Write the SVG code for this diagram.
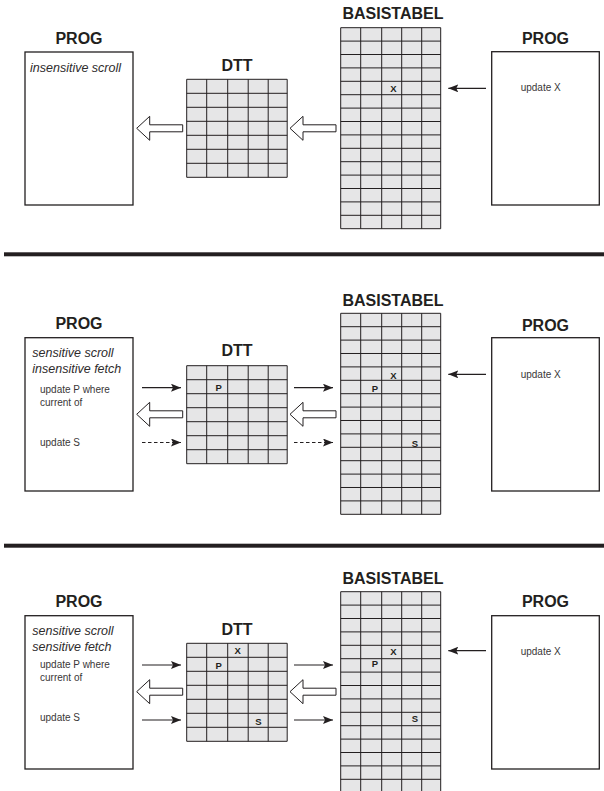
<svg xmlns="http://www.w3.org/2000/svg" xmlns:xlink="http://www.w3.org/1999/xlink" width="604" height="791" viewBox="0 0 604 791">
<style>
.title{font-family:"Liberation Sans",Arial,sans-serif;font-weight:bold;font-size:16px;fill:#231f20;text-anchor:middle}
.mode{font-family:"Liberation Sans",Arial,sans-serif;font-style:italic;font-size:12.5px;fill:#2e2b2c}
.small{font-family:"Liberation Sans",Arial,sans-serif;font-size:10px;fill:#3a3738}
.cell{font-family:"Liberation Sans",Arial,sans-serif;font-weight:bold;font-size:9.5px;fill:#231f20;text-anchor:middle}
.box{fill:#fff;stroke:#231f20;stroke-width:1.3}
.gfill{fill:#e6e6e7}
.gline{fill:none;stroke:#231f20;stroke-width:1}
.hollow{fill:#fff;stroke:#231f20;stroke-width:1}
.conn{fill:none;stroke:#231f20;stroke-width:1.2;marker-end:url(#ah)}
.dash{stroke-dasharray:3.5 2.5}
.sep{fill:#231f20}
</style>
<defs>
<marker id="ah" markerWidth="10" markerHeight="8" refX="10" refY="4" orient="auto" markerUnits="userSpaceOnUse">
<path d="M0,0 L10,4 L0,8 L2,4 Z" fill="#231f20"/>
</marker>
<g id="dttGrid">
<rect class="gfill" x="0" y="0" width="100.5" height="98"/>
<path class="gline" d="M0,0H100.5M0,14H100.5M0,28H100.5M0,42H100.5M0,56H100.5M0,70H100.5M0,84H100.5M0,98H100.5M0,0V98M20,0V98M41,0V98M61.5,0V98M81.5,0V98M100.5,0V98"/>
</g>
<g id="basisGrid">
<rect class="gfill" x="0" y="0" width="100" height="201"/>
<path class="gline" d="M0,0H100M0,13.4H100M0,26.8H100M0,40.2H100M0,53.6H100M0,67H100M0,80.4H100M0,93.8H100M0,107.2H100M0,120.6H100M0,134H100M0,147.4H100M0,160.8H100M0,174.2H100M0,187.6H100M0,201H100M0,0V201M20,0V201M41,0V201M61,0V201M81,0V201M100,0V201"/>
</g>
<path id="hollowArrow" class="hollow" d="M0,0 L13,-12 L13,-3.5 L46,-3.5 L46,3.5 L13,3.5 L13,12 Z"/>
</defs>

<!-- Separators -->
<g id="separators">
<rect class="sep" x="4" y="252.3" width="600" height="4"/>
<rect class="sep" x="4" y="543.7" width="600" height="4"/>
</g>

<!-- ===== Section 1 ===== -->
<g id="s1-prog-left">
<text class="title" x="79" y="43.5">PROG</text>
<rect class="box" x="25" y="52" width="108" height="153"/>
<text class="mode" x="30" y="71.5">insensitive scroll</text>
</g>
<g id="s1-dtt">
<text class="title" x="237" y="70.7">DTT</text>
<use xlink:href="#dttGrid" x="186.7" y="79.3"/>
</g>
<g id="s1-basistabel">
<text class="title" x="393" y="19.3">BASISTABEL</text>
<use xlink:href="#basisGrid" x="340.7" y="27.7"/>
<text class="cell" x="393.3" y="92.4">X</text>
</g>
<g id="s1-prog-right">
<text class="title" x="545.5" y="44">PROG</text>
<rect class="box" x="491.7" y="51.7" width="107.6" height="153.3"/>
<text class="small" x="520.7" y="91.3">update X</text>
</g>

<!-- ===== Section 2 ===== -->
<g id="s2-prog-left">
<text class="title" x="79" y="329.3">PROG</text>
<rect class="box" x="25" y="337.7" width="108" height="153.3"/>
<text class="mode" x="32.3" y="357">sensitive scroll</text>
<text class="mode" x="32.3" y="372.7">insensitive fetch</text>
<text class="small" x="40" y="393.3">update P where</text>
<text class="small" x="40" y="406">current of</text>
<text class="small" x="40" y="446">update S</text>
</g>
<g id="s2-dtt">
<text class="title" x="237" y="356">DTT</text>
<use xlink:href="#dttGrid" x="186.7" y="365.7"/>
<text class="cell" x="218.7" y="390.8">P</text>
</g>
<g id="s2-basistabel">
<text class="title" x="393" y="305.7">BASISTABEL</text>
<use xlink:href="#basisGrid" x="340.7" y="313.3"/>
<text class="cell" x="393.3" y="378.7">X</text>
<text class="cell" x="375" y="392.2">P</text>
<text class="cell" x="415" y="446.5">S</text>
</g>
<g id="s2-prog-right">
<text class="title" x="545.5" y="330.7">PROG</text>
<rect class="box" x="491.7" y="337.7" width="107.6" height="153.3"/>
<text class="small" x="520.7" y="377.7">update X</text>
</g>

<!-- ===== Section 3 ===== -->
<g id="s3-prog-left">
<text class="title" x="79" y="606.7">PROG</text>
<rect class="box" x="25" y="615.7" width="108" height="153.3"/>
<text class="mode" x="32.3" y="635">sensitive scroll</text>
<text class="mode" x="32.3" y="650.7">sensitive fetch</text>
<text class="small" x="40" y="668.3">update P where</text>
<text class="small" x="40" y="680.7">current of</text>
<text class="small" x="40" y="720.7">update S</text>
</g>
<g id="s3-dtt">
<text class="title" x="237" y="634.7">DTT</text>
<use xlink:href="#dttGrid" x="186.7" y="643.3"/>
<text class="cell" x="237.7" y="653.5">X</text>
<text class="cell" x="218.7" y="668.5">P</text>
<text class="cell" x="258.3" y="725.2">S</text>
</g>
<g id="s3-basistabel">
<text class="title" x="393" y="584.3">BASISTABEL</text>
<use xlink:href="#basisGrid" x="340.7" y="591.7"/>
<text class="cell" x="393.3" y="655.2">X</text>
<text class="cell" x="375" y="666.8">P</text>
<text class="cell" x="415" y="721.8">S</text>
</g>
<g id="s3-prog-right">
<text class="title" x="545.5" y="607">PROG</text>
<rect class="box" x="491.7" y="615.7" width="107.6" height="153.3"/>
<text class="small" x="520.7" y="655">update X</text>
</g>

<!-- Connectors -->
<g id="connectors">
<!-- section 1 -->
<use xlink:href="#hollowArrow" x="136.7" y="128.3"/>
<use xlink:href="#hollowArrow" x="290" y="128.3"/>
<path class="conn" d="M486,88.3H448.3"/>
<!-- section 2 -->
<path class="conn" d="M142,387.7H181"/>
<path class="conn dash" d="M142,442.5H181"/>
<use xlink:href="#hollowArrow" x="136.7" y="414.3"/>
<path class="conn" d="M294,387.7H333"/>
<path class="conn dash" d="M294,442.5H333"/>
<use xlink:href="#hollowArrow" x="290" y="414.3"/>
<path class="conn" d="M486,374.3H448.3"/>
<!-- section 3 -->
<path class="conn" d="M142,665H181"/>
<path class="conn" d="M142,720H181"/>
<use xlink:href="#hollowArrow" x="136.7" y="691.7"/>
<path class="conn" d="M294,665H333"/>
<path class="conn" d="M294,720H333"/>
<use xlink:href="#hollowArrow" x="290" y="691.7"/>
<path class="conn" d="M486,650.7H448.3"/>
</g>
</svg>
